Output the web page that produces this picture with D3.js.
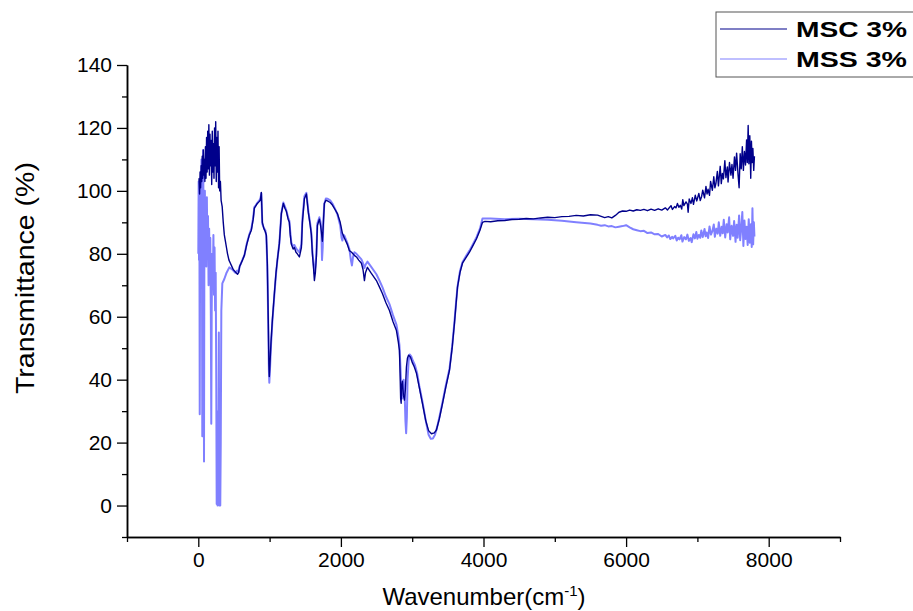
<!DOCTYPE html>
<html>
<head>
<meta charset="utf-8">
<script src="https://cdn.jsdelivr.net/npm/d3@7"></script>
<style>
  body { margin: 0; background: #fff; }
  svg { display: block; font-family: "Liberation Sans", Arial, sans-serif; }
</style>
</head>
<body>
<div id="chart-area"></div>
<script>
// series names + colours
var seriesNames = ["MSC 3%", "MSS 3%"];
var seriesColors = ["#00008b", "#8080ff"];

// axis ticks
var xMajor = [0, 2000, 4000, 6000, 8000];
var xMinor = [-1000, 1000, 3000, 5000, 7000, 9000];
var yMajor = [0, 20, 40, 60, 80, 100, 120, 140];
var yMinor = [-10, 10, 30, 50, 70, 90, 110, 130];

// MSC 3% : [wavenumber, transmittance]
var msc = [
  [10,104],[18,99],[25,106],[32,101],[40,108],[48,103],[55,111],[62,104],[70,113],[78,105],
  [85,110],[92,103],[100,114],[108,104],[116,117],[124,106],[132,119],[140,107],[148,121],[156,105],
  [164,118],[172,108],[180,116],[188,102],[196,119],[204,106],[212,115],[220,104],[228,120],[236,108],
  [244,122],[252,103],[260,117],[268,106],[276,119],[284,101],[292,114],[300,100],[310,103],[320,97],
  [335,95],[350,90],[365,86],[380,84],[395,82],[410,80],[430,78],[450,77],[470,76],[490,75],
  [510,74.5],[530,74],[550,73.5],[565,74],[580,76],[600,77],[620,78],[646,79.5],[680,83],[716,86],
  [744,87.5],[770,91],[786,94.5],[800,95],[828,96],[850,96.5],[870,97],[884,99.5],[898,90],[920,88],
  [940,87],[954,86],[968,77],[982,58],[990,45],[996,41],[1005,45],[1020,52],[1039,59],[1067,67.4],
  [1090,74],[1109,78],[1137,83.3],[1165,92.8],[1193,96],[1215,94.5],[1235,93.5],[1260,91],[1277,90],[1290,86],
  [1305,83],[1330,81.5],[1347,82],[1370,80.5],[1389,80],[1418,79],[1446,82],[1460,90],[1488,97.5],[1516,99],
  [1544,93],[1570,89],[1586,86],[1600,80],[1615,76],[1628,71.5],[1642,74],[1656,79],[1670,89],[1698,91],
  [1715,89],[1726,87],[1740,84],[1755,90],[1768,96],[1790,97],[1811,96.8],[1850,96.3],[1881,95.5],[1920,94],
  [1951,92.8],[1990,90],[2021,86.5],[2049,85],[2090,83],[2119,81],[2150,80.5],[2189,79.5],[2218,79],[2250,78],
  [2288,77],[2310,75],[2330,71.5],[2345,74],[2372,75.7],[2420,74],[2498,71.5],[2540,69.5],[2582,67.4],[2630,64.5],
  [2681,62],[2730,58.5],[2779,55.6],[2805,52],[2821,49.3],[2830,42],[2838,34],[2845,32.5],[2852,38.5],[2863,39.5],
  [2877,35],[2891,33.5],[2905,37],[2919,44],[2933,46.8],[2950,47.8],[2975,47.2],[3000,45.5],[3030,44],[3060,42],
  [3100,37.5],[3144,32.4],[3190,27],[3230,23.8],[3270,22.8],[3310,23.1],[3340,24],[3380,27.5],[3425,32.4],[3470,37.5],
  [3523,43],[3560,50],[3593,58],[3615,64],[3635,69.3],[3670,74],[3705,77],[3761,79],[3803,80.5],[3850,82.5],
  [3902,84.8],[3950,87.5],[3986,90],[4020,90.3],[4100,90.2],[4200,90.5],[4300,90.6],[4400,90.9],[4500,91],[4600,91.2],
  [4700,91.1],[4800,91.4],[4900,91.6],[5000,91.5],[5100,91.8],[5200,91.9],[5300,92.2],[5400,92],[5500,92.4],[5600,92.3],
  [5650,91.9],[5700,91.5],[5750,91.8],[5800,91.4],[5850,92.2],[5900,93.2],[5950,93.6],[6000,93.5],[6050,93.9],[6100,93.6],
  [6150,94],[6200,93.8],[6250,94.1],[6300,93.7],[6350,94.2],[6400,93.8],[6450,94.3],[6500,93.9],[6550,94.6],[6580,93.9],
  [6600,94.5],[6630,95.3],[6650,94.1],[6680,95],[6700,94.6],[6720,96],[6740,94.8],[6760,95.4],[6780,94.2],[6795,97.2],
  [6810,95.3],[6840,96.5],[6860,95.8],[6870,93.2],[6885,97.4],[6910,96],[6930,97.8],[6945,95.7],[6970,98.6],[6990,96.8],
  [7000,97.5],[7020,99.2],[7040,96.9],[7060,98.3],[7075,100.2],[7100,97.8],[7120,101.4],[7135,99],[7150,100.5],[7170,98.6],
  [7185,103],[7210,100.2],[7230,104.5],[7245,101],[7260,102.4],[7280,106.2],[7295,101.6],[7320,107.8],[7335,102.3],[7350,105.5],
  [7365,103.8],[7385,109.6],[7400,104.2],[7420,107.6],[7430,102.8],[7450,109],[7470,105],[7485,108.4],[7500,104],[7520,110.8],
  [7535,106.5],[7550,112],[7570,105.2],[7585,101],[7600,111.8],[7615,107],[7630,114],[7645,106.5],[7660,112.5],[7675,108.2],
  [7690,116.2],[7700,109],[7712,120.8],[7722,108.6],[7735,117.5],[7748,104],[7758,115.8],[7768,109],[7778,113.5],[7790,106.5],
  [7800,111]
];

// MSS 3%
var mss = [
  [0,80],[5,103],[10,78],[15,100],[20,29],[26,90],[32,104],[38,96],[44,110],[50,98],
  [56,22],[62,100],[68,113],[74,90],[80,14],[86,94],[92,100],[98,85],[104,96],[112,76],
  [120,98],[128,80],[136,92],[144,70],[152,88],[160,75],[168,85],[176,60],[182,26],[188,62],
  [196,80],[204,72],[212,86],[220,67],[228,82],[236,62],[244,74],[252,40],[258,0.5],[264,30],
  [270,0],[276,15],[282,0.5],[288,55],[294,0],[300,35],[308,0],[315,20],[323,62],[337,70.6],
  [365,72],[393,73.8],[435,75.7],[477,75],[520,74],[547,74.7],[565,74.2],[580,76],[600,77],[620,78.2],
  [646,79.5],[680,83.3],[716,86.2],[744,88],[770,91.5],[786,94.8],[800,95.2],[828,96.2],[850,96.8],[870,97.5],
  [884,99.2],[898,89.5],[920,88.2],[940,87.5],[954,85.5],[968,76],[982,56],[990,43],[996,39],[1005,43],
  [1020,51],[1039,58.5],[1067,67],[1090,73.5],[1109,78],[1137,83.5],[1165,93],[1193,96.3],[1215,95],[1235,93.8],
  [1260,91.5],[1277,90.5],[1290,87],[1305,83.5],[1330,82.5],[1347,82.8],[1370,81.8],[1389,81.2],[1418,80.5],[1446,83],
  [1460,91],[1488,98.3],[1516,99.4],[1544,93.5],[1570,89.5],[1586,86.5],[1600,81],[1615,77],[1628,73.8],[1642,76],
  [1656,80],[1670,89.7],[1698,91.6],[1715,90],[1726,87.4],[1735,78],[1745,82],[1755,91],[1768,96],[1790,97.6],
  [1811,97.5],[1850,97],[1881,96],[1920,94.2],[1951,92.5],[1990,89],[2010,85],[2021,84.2],[2035,86],[2049,85.8],
  [2090,83.5],[2119,81.5],[2140,78],[2155,76.3],[2170,79],[2189,80.5],[2218,80],[2250,79.2],[2288,78.2],[2310,77],
  [2330,75.5],[2345,76.5],[2372,77.5],[2420,76],[2498,73.5],[2540,71.5],[2582,69.4],[2630,66.5],[2681,64],[2730,60.5],
  [2779,57.5],[2805,54],[2821,51],[2835,44],[2849,36],[2860,34],[2870,38],[2880,40],[2895,35],[2905,27],
  [2915,23],[2925,28],[2935,40],[2950,46],[2965,48],[2985,47.5],[3010,46],[3040,44.5],[3070,42],[3100,38],
  [3144,33],[3190,27],[3230,22.5],[3260,21.2],[3290,21.3],[3320,22.5],[3350,25],[3380,28],[3425,32.8],[3470,38],
  [3523,43.5],[3560,50.5],[3593,58.5],[3615,64.5],[3635,69.5],[3670,74.5],[3705,77.3],[3761,79.5],[3803,81],[3850,83],
  [3902,85.3],[3950,88],[3986,91.2],[4100,91.2],[4300,91],[4500,91.1],[4700,91],[4900,90.8],[5100,90.5],[5300,90],
  [5500,89.6],[5600,89.2],[5650,88.9],[5700,89.1],[5750,88.7],[5800,88.8],[5850,88.4],[5900,88.6],[5950,88.8],[6000,89.1],
  [6050,88.4],[6100,87.8],[6150,87.5],[6200,87.2],[6250,87.3],[6300,86.6],[6350,86.8],[6400,86.2],[6450,86.3],[6500,85.5],
  [6550,86],[6575,85.2],[6600,85.8],[6620,84.7],[6645,85.4],[6660,84.9],[6690,85.7],[6710,84.2],[6730,85.1],[6750,84.6],
  [6775,85.9],[6790,83.9],[6815,85.3],[6840,84.6],[6860,86.1],[6880,84.1],[6905,85],[6920,83.7],[6945,86.2],[6965,84.9],
  [6985,86.9],[7000,84.8],[7020,86],[7040,85.1],[7055,87.4],[7075,85.3],[7100,87.9],[7115,85.6],[7130,86.8],[7150,85],
  [7170,88.7],[7190,86.1],[7210,87.2],[7230,89.3],[7245,85.4],[7265,88],[7285,86.4],[7300,90],[7320,85.7],[7340,88.6],
  [7355,86.5],[7370,90.8],[7390,85.2],[7410,89.4],[7425,86.8],[7445,91.6],[7460,84.6],[7480,88.9],[7500,85.7],[7515,90.4],
  [7535,83.8],[7550,89.2],[7565,85.1],[7585,92.2],[7600,84.3],[7615,88],[7630,93.3],[7645,82.5],[7660,90.6],[7675,84.7],
  [7690,88.6],[7705,82.8],[7720,91],[7735,83.5],[7750,89.4],[7762,82.2],[7772,94.5],[7782,83],[7792,90],[7800,85.5]
];

var width = 913, height = 611;

var svg = d3.select("#chart-area")
  .append("svg")
    .attr("width", width)
    .attr("height", height);

var x = d3.scaleLinear().domain([-1000, 9000]).range([127, 840]);
var y = d3.scaleLinear().domain([-10, 140]).range([537, 65]);

// minor ticks first, then the major ones (with labels)
svg.append("g")
  .attr("transform", "translate(0,537)")
  .call(d3.axisBottom(x).tickValues(xMinor).tickSize(5).tickSizeOuter(0).tickFormat(""));
svg.append("g")
  .attr("transform", "translate(0,537)")
  .call(d3.axisBottom(x).tickValues(xMajor).tickSize(10).tickSizeOuter(0).tickPadding(5)
    .tickFormat(d3.format("d")));

svg.append("g")
  .attr("transform", "translate(127,0)")
  .call(d3.axisLeft(y).tickValues(yMinor).tickSize(5).tickSizeOuter(0).tickFormat(""));
svg.append("g")
  .attr("transform", "translate(127,0)")
  .call(d3.axisLeft(y).tickValues(yMajor).tickSize(10).tickSizeOuter(0).tickPadding(5));

svg.selectAll(".domain").attr("stroke", "#000").attr("stroke-width", 1.5);
svg.selectAll(".tick line").attr("stroke", "#000").attr("stroke-width", 1.3);
svg.selectAll(".tick text")
  .attr("font-size", "21px")
  .attr("font-family", "Liberation Sans, Arial, sans-serif")
  .attr("fill", "#000");

// lines (MSS underneath, MSC on top)
var line = d3.line()
  .x(function(d) { return x(d[0]); })
  .y(function(d) { return y(d[1]); });

svg.append("path")
  .datum(mss)
  .attr("fill", "none")
  .attr("stroke", seriesColors[1])
  .attr("stroke-width", 2)
  .attr("stroke-linejoin", "round")
  .attr("d", line);

svg.append("path")
  .datum(msc)
  .attr("fill", "none")
  .attr("stroke", seriesColors[0])
  .attr("stroke-width", 1.4)
  .attr("stroke-linejoin", "round")
  .attr("d", line);

// axis titles
svg.append("text")
  .attr("transform", "translate(34,278) rotate(-90)")
  .attr("text-anchor", "middle")
  .attr("font-size", "25px")
  .attr("textLength", 232)
  .attr("lengthAdjust", "spacingAndGlyphs")
  .text("Transmittance (%)");

var xt = svg.append("text")
  .attr("x", 484)
  .attr("y", 605)
  .attr("text-anchor", "middle")
  .attr("font-size", "24px");
xt.append("tspan").text("Wavenumber(cm");
xt.append("tspan").attr("font-size", "15px").attr("dy", -9).text("-1");
xt.append("tspan").attr("dy", 9).text(")");

// legend
var legend = svg.append("g");
legend.append("rect")
  .attr("x", 716).attr("y", 12)
  .attr("width", 220).attr("height", 65)
  .attr("fill", "#fff")
  .attr("stroke", "#555")
  .attr("stroke-width", 1);

seriesNames.forEach(function(name, i) {
  var row = legend.append("g")
    .attr("transform", "translate(0," + (i * 30) + ")");
  row.append("line")
    .attr("x1", 720).attr("x2", 787)
    .attr("y1", 29).attr("y2", 29)
    .attr("stroke", seriesColors[i])
    .attr("stroke-width", 1.2);
  row.append("text")
    .attr("x", 796)
    .attr("y", 37)
    .attr("font-size", "22px")
    .attr("font-weight", "bold")
    .attr("textLength", 111)
    .attr("lengthAdjust", "spacingAndGlyphs")
    .text(name);
});
</script>
</body>
</html>
